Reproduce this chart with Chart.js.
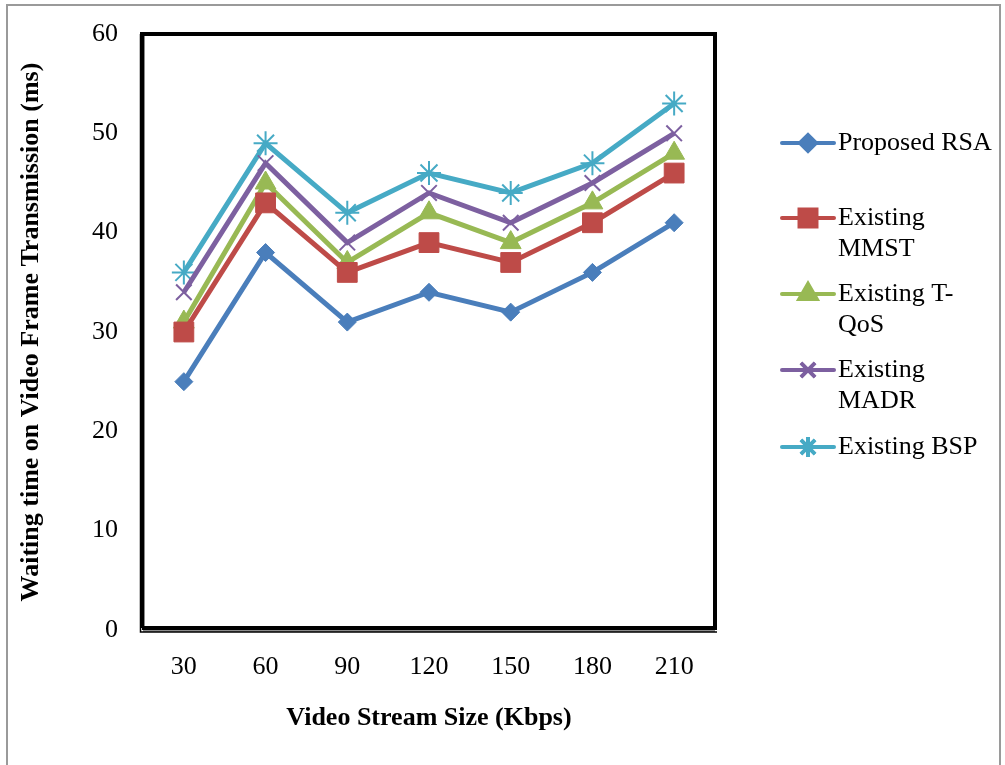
<!DOCTYPE html>
<html>
<head>
<meta charset="utf-8">
<script src="https://cdn.jsdelivr.net/npm/chart.js@4/dist/chart.umd.min.js"></script>
<style>
html,body{margin:0;padding:0;background:#fff;}
canvas{display:block;}
</style>
</head>
<body>
<canvas id="c" width="1005" height="765"></canvas>
<script>
const categories = ['30','60','90','120','150','180','210'];
const proposedRSA = [25,38,31,34,32,36,41];
const existingMMST = [30,43,36,39,37,41,46];
const existingTQoS = [31,45,37,42,39,43,48];
const existingMADR = [34,47,39,44,41,45,50];
const existingBSP = [36,49,42,46,44,47,53];
const seriesLabels = [['Proposed RSA'],['Existing','MMST'],['Existing T-','QoS'],['Existing','MADR'],['Existing BSP']];
const yTicks = [0,10,20,30,40,50,60];

const FONT = "'Liberation Serif', 'Times New Roman', serif";

const colors = ['#4A7EBB','#BE4B48','#98B954','#7D60A0','#46AAC5'];
const styles = [
  {pointStyle:'rectRot', pointRadius:9, pointBorderWidth:1},
  {pointStyle:'rect', pointRadius:14, pointBorderWidth:1},
  {pointStyle:'triangle', pointRadius:12, pointBorderWidth:1},
  {pointStyle:'crossRot', pointRadius:11, pointBorderWidth:2},
  {pointStyle:'star', pointRadius:12, pointBorderWidth:2}
];
const values = [proposedRSA, existingMMST, existingTQoS, existingMADR, existingBSP];

const datasets = values.map((v,i)=>({
  label: seriesLabels[i].join(' '),
  legendLines: seriesLabels[i],
  data: v,
  borderColor: colors[i],
  backgroundColor: colors[i],
  pointBackgroundColor: colors[i],
  pointBorderColor: colors[i],
  borderWidth: 5,
  tension: 0,
  pointStyle: styles[i].pointStyle,
  pointRadius: styles[i].pointRadius,
  pointBorderWidth: styles[i].pointBorderWidth,
  pointHoverRadius: styles[i].pointRadius
}));

const framePlugin = {
  id: 'frame',
  beforeDraw(chart){
    const ctx = chart.ctx;
    ctx.save();
    ctx.fillStyle = '#fff';
    ctx.fillRect(0,0,chart.width,chart.height);
    ctx.strokeStyle = '#9a9a9a';
    ctx.lineWidth = 2;
    ctx.strokeRect(7,5,993,775);
    ctx.restore();
  },
  afterDraw(chart){
    const ctx = chart.ctx;
    const a = chart.chartArea;
    ctx.save();
    ctx.strokeStyle = '#8c8c8c';
    ctx.lineWidth = 2;
    ctx.beginPath();
    ctx.moveTo(a.left+1, a.top);
    ctx.lineTo(a.left+1, a.bottom+1);
    ctx.lineTo(a.right, a.bottom+1);
    ctx.stroke();
    ctx.strokeStyle = '#000';
    ctx.lineWidth = 4;
    ctx.beginPath();
    ctx.moveTo(a.left-1, a.bottom-2);
    ctx.lineTo(a.left-1, a.top);
    ctx.lineTo(a.right, a.top);
    ctx.lineTo(a.right, a.bottom-2);
    ctx.lineTo(a.left-1, a.bottom-2);
    ctx.stroke();
    ctx.lineWidth = 1.5;
    ctx.beginPath();
    ctx.moveTo(a.left-2.5, a.top);
    ctx.lineTo(a.left-2.5, a.bottom+2);
    ctx.lineTo(a.right+2, a.bottom+2);
    ctx.stroke();

    const ys = [143, 218, 294, 370, 447];
    const lineH = 31;
    chart.data.datasets.forEach((ds,i)=>{
      const y = ys[i];
      ctx.strokeStyle = ds.borderColor;
      ctx.lineWidth = 4;
      ctx.lineCap = 'round';
      ctx.beginPath();
      ctx.moveTo(782, y);
      ctx.lineTo(834, y);
      ctx.stroke();
      ctx.lineCap = 'butt';
      Chart.helpers.drawPoint(ctx, {
        pointStyle: ds.pointStyle,
        radius: ds.pointStyle==='rect' ? 12 : (ds.pointStyle==='rectRot' ? 8 : 10),
        borderWidth: ds.pointBorderWidth,
        rotation: 0
      }, 808, y);
      ctx.fillStyle = ds.pointBackgroundColor;
      ctx.fill();
      ctx.strokeStyle = ds.pointBorderColor;
      ctx.lineWidth = ds.pointBorderWidth;
      ctx.stroke();
      ctx.fillStyle = '#000';
      ctx.font = '26px ' + FONT;
      ctx.textBaseline = 'middle';
      ctx.textAlign = 'left';
      ds.legendLines.forEach((t,j)=>{
        ctx.fillText(t, 838, y + j*lineH);
      });
    });
    ctx.restore();
  }
};

new Chart(document.getElementById('c'), {
  type: 'line',
  data: { labels: categories, datasets },
  options: {
    responsive: false,
    animation: false,
    devicePixelRatio: 1,
    layout: { padding: { top: 34, right: 290, left: 0, bottom: 0 } },
    plugins: { legend: { display: false }, tooltip: { enabled: false } },
    scales: {
      x: {
        offset: true,
        grid: { display: false, drawTicks: false },
        border: { display: false },
        ticks: { color: '#000', font: { family: FONT, size: 26 }, padding: 22, autoSkip: false, maxRotation: 0 },
        title: { display: true, text: 'Video Stream Size (Kbps)', color: '#000', font: { family: FONT, size: 26, weight: 'bold' }, padding: { top: 0, bottom: 31 } },
        afterFit(s){ s.height = 135; s.paddingLeft = 0; s.paddingRight = 0; }
      },
      y: {
        min: 0, max: 60,
        afterBuildTicks(s){ s.ticks = yTicks.map(v=>({value:v})); },
        grid: { display: false, drawTicks: false },
        border: { display: false },
        ticks: { color: '#000', font: { family: FONT, size: 26 }, padding: 25 },
        title: { display: true, text: 'Waiting time on Video Frame Transmission (ms)', color: '#000', font: { family: FONT, size: 26, weight: 'bold' }, padding: { top: 16, bottom: 0 } },
        afterFit(s){ s.width = 143; s.paddingTop = 0; s.paddingBottom = 0; }
      }
    }
  },
  plugins: [framePlugin]
});
</script>
</body>
</html>
